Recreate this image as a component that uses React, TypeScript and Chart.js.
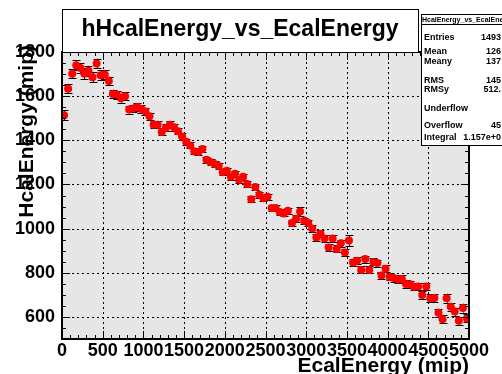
import React, { useEffect, useRef } from "react";
import { Chart, registerables } from "chart.js";

Chart.register(...registerables);

// Histogram binning (TProfile: 100 bins from 0 to 5000)
const binLow = 0;
const binWidth = 50;

// Mean HcalEnergy per EcalEnergy bin
const hcalMeans = [
  1514, 1633, 1702, 1740, 1728, 1702, 1715, 1686, 1748, 1695,
  1698, 1669, 1610, 1606, 1590, 1600, 1539, 1544, 1551, 1542,
  1531, 1509, 1471, 1471, 1438, 1456, 1471, 1459, 1441, 1417,
  1393, 1377, 1350, 1347, 1361, 1312, 1302, 1293, 1284, 1255,
  1262, 1235, 1249, 1220, 1235, 1202, 1133, 1188, 1153, 1138,
  1144, 1093, 1093, 1075, 1069, 1081, 1026, 1045, 1078, 1036,
  1026, 1001, 960, 977, 955, 914, 955, 908, 934, 892,
  946, 846, 854, 813, 862, 813, 849, 844, 788, 818,
  781, 776, 770, 772, 749, 748, 737, 738, 699, 738,
  685, 686, 619, 589, 685, 646, 624, 583, 640, 593,
];

// Error on the mean per bin
const hcalErrors = [
  22, 20, 20, 22, 22, 24, 22, 24, 22, 22,
  20, 20, 20, 18, 20, 18, 18, 18, 16, 18,
  16, 16, 16, 16, 16, 16, 16, 16, 14, 14,
  14, 14, 14, 14, 14, 14, 14, 14, 14, 14,
  14, 14, 14, 14, 14, 14, 14, 14, 14, 14,
  14, 14, 14, 14, 14, 14, 14, 16, 20, 14,
  14, 16, 16, 16, 16, 16, 16, 16, 16, 16,
  24, 16, 16, 16, 16, 16, 16, 16, 16, 16,
  16, 16, 16, 16, 16, 16, 16, 16, 18, 16,
  18, 18, 18, 18, 20, 18, 18, 18, 20, 18,
];

const xMin = 0;
const xMax = 5000;
const yMin = 500;
const yMax = 1800;
const xTicks = [0, 500, 1000, 1500, 2000, 2500, 3000, 3500, 4000, 4500, 5000];
const yTicks = [600, 800, 1000, 1200, 1400, 1600, 1800];
const xMinorStep = 100;
const yMinorStep = 50;

const chartTitle = "hHcalEnergy_vs_EcalEnergy";
const xTitle = "EcalEnergy (mip)";
const yTitle = "HcalEnergy (mip)";
const statsTitle = "HcalEnergy_vs_EcalEne";
const statsLabels = ["Entries", "Mean", "Meany", "RMS", "RMSy", "Underflow", "Overflow", "Integral"];
const statsValues = ["1493", "126", "137", "145", "512.", "", "45", "1.157e+0"];
const statsRowY = [37, 51, 61, 80, 89, 108, 125, 137];

const FONT = "'Liberation Sans', Arial, Helvetica, sans-serif";

const rootStyle = {
  id: "rootStyle",
  beforeDraw(chart: any) {
    const { ctx, chartArea: a } = chart;
    ctx.save();
    ctx.fillStyle = "#ffffff";
    ctx.fillRect(0, 0, chart.width, chart.height);
    ctx.fillStyle = "#e6e6e6";
    ctx.fillRect(a.left, a.top, a.right - a.left, a.bottom - a.top);
    ctx.restore();
  },
  beforeDatasetsDraw(chart: any) {
    const { ctx, chartArea: a } = chart;
    const xs = chart.scales.x;
    const ys = chart.scales.y;
    ctx.save();
    // dotted grid
    ctx.strokeStyle = "#000";
    ctx.lineWidth = 1;
    ctx.setLineDash([2, 3]);
    xTicks.forEach((v) => {
      if (v <= xMin || v >= xMax) return;
      const px = Math.round(xs.getPixelForValue(v)) + 0.5;
      ctx.beginPath();
      ctx.moveTo(px, a.top);
      ctx.lineTo(px, a.bottom);
      ctx.stroke();
    });
    yTicks.forEach((v) => {
      if (v <= yMin || v >= yMax) return;
      const py = Math.round(ys.getPixelForValue(v)) + 0.5;
      ctx.beginPath();
      ctx.moveTo(a.left, py);
      ctx.lineTo(a.right, py);
      ctx.stroke();
    });
    ctx.setLineDash([]);
    // error bars
    ctx.beginPath();
    ctx.rect(a.left, a.top, a.right - a.left, a.bottom - a.top);
    ctx.clip();
    ctx.strokeStyle = "#000";
    ctx.lineWidth = 1;
    hcalMeans.forEach((m, i) => {
      const xc = binLow + binWidth * (i + 0.5);
      const px = Math.round(xs.getPixelForValue(xc)) + 0.5;
      const yHi = ys.getPixelForValue(m + hcalErrors[i]);
      const yLo = ys.getPixelForValue(m - hcalErrors[i]);
      ctx.beginPath();
      ctx.moveTo(px, yHi);
      ctx.lineTo(px, yLo);
      ctx.moveTo(px - 4, Math.round(yHi) + 0.5);
      ctx.lineTo(px + 4, Math.round(yHi) + 0.5);
      ctx.moveTo(px - 4, Math.round(yLo) + 0.5);
      ctx.lineTo(px + 4, Math.round(yLo) + 0.5);
      ctx.stroke();
    });
    ctx.restore();
  },
  afterDraw(chart: any) {
    const { ctx, chartArea: a } = chart;
    const xs = chart.scales.x;
    const ys = chart.scales.y;
    ctx.save();
    // ticks (inward, on all four sides)
    ctx.strokeStyle = "#000";
    ctx.lineWidth = 1;
    for (let v = xMin; v <= xMax; v += xMinorStep) {
      const major = xTicks.includes(v);
      const len = major ? 8 : 4;
      const px = Math.round(xs.getPixelForValue(v)) + 0.5;
      ctx.beginPath();
      ctx.moveTo(px, a.bottom);
      ctx.lineTo(px, a.bottom - len);
      ctx.moveTo(px, a.top);
      ctx.lineTo(px, a.top + len);
      ctx.stroke();
    }
    for (let v = yMin; v <= yMax; v += yMinorStep) {
      const major = yTicks.includes(v);
      const len = major ? 8 : 4;
      const py = Math.round(ys.getPixelForValue(v)) + 0.5;
      ctx.beginPath();
      ctx.moveTo(a.left, py);
      ctx.lineTo(a.left + len, py);
      ctx.moveTo(a.right, py);
      ctx.lineTo(a.right - len, py);
      ctx.stroke();
    }
    // frame
    ctx.lineWidth = 2;
    ctx.strokeRect(a.left, a.top, a.right - a.left, a.bottom - a.top);

    // axis titles
    ctx.fillStyle = "#000";
    ctx.font = `bold 21px ${FONT}`;
    ctx.textAlign = "right";
    ctx.textBaseline = "alphabetic";
    ctx.fillText(xTitle, a.right, 372);
    ctx.save();
    ctx.translate(33, 45);
    ctx.rotate(-Math.PI / 2);
    ctx.textAlign = "right";
    ctx.fillText(yTitle, 0, 0);
    ctx.restore();

    // title box
    ctx.fillStyle = "#fff";
    ctx.fillRect(62, 9, 356, 43);
    ctx.lineWidth = 1;
    ctx.strokeStyle = "#000";
    ctx.strokeRect(62.5, 9.5, 356, 43);
    ctx.fillStyle = "#000";
    ctx.font = `bold 23px ${FONT}`;
    ctx.textAlign = "center";
    ctx.fillText(chartTitle, 240, 36);

    // stats box
    ctx.fillStyle = "#fff";
    ctx.fillRect(421, 14, 90, 132);
    ctx.strokeStyle = "#000";
    ctx.lineWidth = 1;
    ctx.strokeRect(421.5, 14.5, 90, 131);
    ctx.beginPath();
    ctx.moveTo(421, 24.5);
    ctx.lineTo(502, 24.5);
    ctx.stroke();
    ctx.fillStyle = "#000";
    ctx.font = `bold 7px ${FONT}`;
    ctx.textAlign = "left";
    ctx.fillText(statsTitle, 422, 22);
    ctx.font = `bold 9px ${FONT}`;
    statsLabels.forEach((lab, i) => {
      ctx.textAlign = "left";
      ctx.fillText(lab, 424, statsRowY[i] + 3);
      ctx.textAlign = "right";
      if (statsValues[i]) ctx.fillText(statsValues[i], 501, statsRowY[i] + 3);
    });
    ctx.restore();
  },
};

export default function App() {
  const canvasRef = useRef<HTMLCanvasElement | null>(null);

  useEffect(() => {
    const canvas = canvasRef.current;
    if (!canvas) return;
    const points = hcalMeans.map((m, i) => ({ x: binLow + binWidth * (i + 0.5), y: m }));
    const chart = new Chart(canvas, {
      type: "scatter",
      data: {
        datasets: [
          {
            data: points,
            pointRadius: 4,
            pointHoverRadius: 4,
            pointBackgroundColor: "#ff0000",
            pointBorderColor: "#ff0000",
            pointBorderWidth: 0,
            showLine: false,
          },
        ],
      },
      options: {
        animation: false,
        responsive: false,
        devicePixelRatio: 1,
        events: [],
        layout: { padding: { top: 52, right: 33, left: 0, bottom: 0 } },
        plugins: { legend: { display: false }, tooltip: { enabled: false } },
        scales: {
          x: {
            type: "linear",
            min: xMin,
            max: xMax,
            afterBuildTicks: (s: any) => {
              s.ticks = xTicks.map((v) => ({ value: v }));
            },
            afterFit: (s: any) => {
              s.height = 35;
            },
            grid: { display: false, drawTicks: false },
            border: { display: false },
            ticks: {
              autoSkip: false,
              maxRotation: 0,
              minRotation: 0,
              padding: 1,
              color: "#000",
              font: { family: FONT, weight: "bold", size: 18 },
              callback: (v: any) => String(v),
            },
          },
          y: {
            type: "linear",
            min: yMin,
            max: yMax,
            afterBuildTicks: (s: any) => {
              s.ticks = yTicks.map((v) => ({ value: v }));
            },
            afterFit: (s: any) => {
              s.width = 62;
            },
            grid: { display: false, drawTicks: false },
            border: { display: false },
            ticks: {
              autoSkip: false,
              padding: 7,
              color: "#000",
              font: { family: FONT, weight: "bold", size: 18 },
              callback: (v: any) => String(v),
            },
          },
        },
      },
      plugins: [rootStyle],
    } as any);
    return () => chart.destroy();
  }, []);

  return (
    <div style={{ position: "fixed", left: 0, top: 0, width: 502, height: 374, background: "#fff" }}>
      <canvas ref={canvasRef} width={502} height={374} style={{ width: 502, height: 374, display: "block" }} />
    </div>
  );
}
